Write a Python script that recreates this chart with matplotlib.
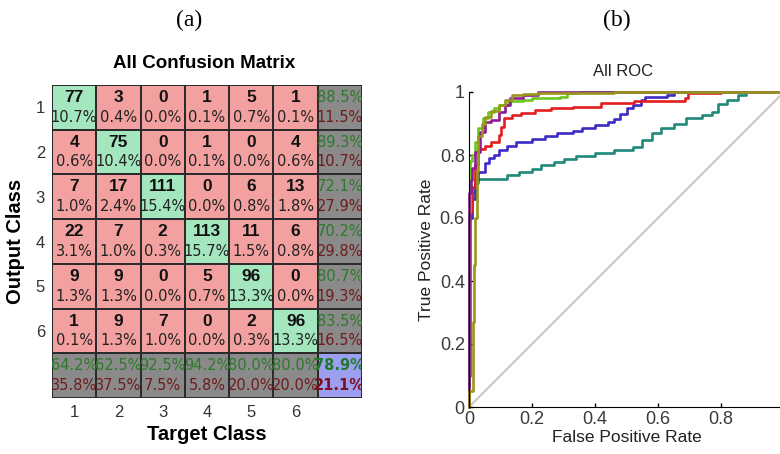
import numpy as np
import matplotlib
matplotlib.use("Agg")
import matplotlib.pyplot as plt
from matplotlib.colors import ListedColormap

# ---------------- data ----------------
classes = ["1", "2", "3", "4", "5", "6"]
counts = np.array([
    [77, 3, 0, 1, 5, 1],
    [4, 75, 0, 1, 0, 4],
    [7, 17, 111, 0, 6, 13],
    [22, 7, 2, 113, 11, 6],
    [9, 9, 0, 5, 96, 0],
    [1, 9, 7, 0, 2, 96],
])

roc_fpr_1 = [0, 0, 0.004, 0.008, 0.02, 0.03, 0.045, 0.06, 0.08, 0.094, 0.125, 0.17, 0.2, 0.29, 0.31, 0.35, 1.0]
roc_tpr_1 = [0, 0.62, 0.78, 0.80, 0.84, 0.885, 0.916, 0.937, 0.948, 0.958, 0.97, 0.975, 0.98, 0.985, 0.996, 1.0, 1.0]
roc_fpr_2 = [0, 0, 0.012, 0.016, 0.02, 0.025, 0.03, 0.04, 0.05, 0.07, 0.094, 0.115, 0.135, 0.17, 0.22, 0.46, 1.0]
roc_tpr_2 = [0, 0.05, 0.27, 0.45, 0.6, 0.75, 0.86, 0.9, 0.92, 0.94, 0.958, 0.975, 0.99, 0.995, 0.998, 1.0, 1.0]
roc_fpr_3 = [0, 0, 0.004, 0.01, 0.02, 0.03, 0.05, 0.07, 0.094, 0.1, 0.11, 0.135, 0.165, 0.21, 0.26, 0.33, 0.42, 0.525, 0.685, 0.695, 0.8, 1.0]
roc_tpr_3 = [0, 0.1, 0.62, 0.70, 0.767, 0.82, 0.83, 0.84, 0.863, 0.89, 0.916, 0.927, 0.932, 0.943, 0.948, 0.953, 0.964, 0.97, 0.98, 0.996, 1.0, 1.0]
roc_fpr_4 = [0, 0, 0.005, 0.01, 0.02, 0.035, 0.05, 0.07, 0.094, 0.115, 0.13, 0.17, 0.22, 1.0]
roc_tpr_4 = [0, 0.68, 0.72, 0.76, 0.81, 0.874, 0.905, 0.91, 0.937, 0.96, 0.98, 0.99, 1.0, 1.0]
roc_fpr_5 = [0, 0, 0.01, 0.02, 0.03, 0.05, 0.065, 0.08, 0.095, 0.12, 0.15, 0.2, 0.24, 0.28, 0.33, 0.36, 0.40, 0.44, 0.46, 0.48, 0.50, 0.52, 0.545, 0.56, 0.63, 0.65, 1.0]
roc_tpr_5 = [0, 0.6, 0.66, 0.72, 0.745, 0.775, 0.79, 0.80, 0.815, 0.83, 0.84, 0.85, 0.86, 0.87, 0.875, 0.885, 0.895, 0.905, 0.915, 0.93, 0.95, 0.96, 0.975, 0.985, 0.99, 1.0, 1.0]
roc_fpr_6 = [0, 0, 0.005, 0.01, 0.02, 0.03, 0.12, 0.16, 0.2, 0.23, 0.27, 0.3, 0.34, 0.4, 0.46, 0.52, 0.55, 0.58, 0.61, 0.65, 0.69, 0.74, 0.77, 0.79, 0.82, 0.855, 0.88, 1.0]
roc_tpr_6 = [0, 0.6, 0.65, 0.68, 0.71, 0.725, 0.735, 0.747, 0.757, 0.768, 0.778, 0.787, 0.797, 0.805, 0.816, 0.826, 0.848, 0.869, 0.885, 0.90, 0.918, 0.927, 0.937, 0.962, 0.975, 0.99, 1.0, 1.0]

roc_ticks = [0, 0.2, 0.4, 0.6, 0.8, 1]
roc_yticklabels = ["0", "0.2", "0.4", "0.6", "0.8", "1"]
roc_xticklabels = ["0", "0.2", "0.4", "0.6", "0.8", ""]


def pct(num, den):
    # percentage rounded half-up to one decimal
    tenths = (int(num) * 1000 * 2 + int(den)) // (2 * int(den))
    return f"{tenths // 10}.{tenths % 10}%"


# ---------------- figure ----------------
W, H = 780, 454
fig = plt.figure(figsize=(W / 100, H / 100), dpi=100)
SANS = ["Liberation Sans", "DejaVu Sans"]

# ---- (a) confusion matrix ----
n = len(classes)
total = counts.sum()
row_sum = counts.sum(axis=1)
col_sum = counts.sum(axis=0)
diag = np.diag(counts)

ax = fig.add_axes([52 / W, 1 - 398 / H, 310 / W, 313 / H])
code = np.ones((n + 1, n + 1))
code[np.arange(n), np.arange(n)] = 0
code[n, :] = 2
code[:, n] = 2
code[n, n] = 3
cmap = ListedColormap(["#A4E7BF", "#F3A1A0", "#8B8A8A", "#9C9FF0"])
ax.pcolormesh(np.arange(n + 2), np.arange(n + 2), code, cmap=cmap, vmin=-0.5, vmax=3.5,
              edgecolors="#2b2b2b", linewidth=1.3)
ax.set_xlim(0, n + 1)
ax.set_ylim(n + 1, 0)

count_font = dict(family=["Liberation Sans", "DejaVu Sans"],
                  fontweight="bold", fontsize=12.5, color="#111111")
PCT_FS = 10.5
pct_font = dict(family=["DejaVu Sans"], fontsize=PCT_FS, color="#222222")
for i in range(n):
    for j in range(n):
        ax.text(j + 0.5, i + 0.28, f"{counts[i, j]}", ha="center", va="center", clip_on=True, **count_font)
        ax.text(j + 0.5, i + 0.72, pct(counts[i, j], total), ha="center", va="center",
                clip_on=True, **pct_font)

GREEN_T = "#2A7A2A"
RED_T = "#6E1C1C"
for i in range(n):
    ax.text(n + 0.5, i + 0.28, pct(diag[i], row_sum[i]), ha="center", va="center", clip_on=True,
            family=["DejaVu Sans"], fontsize=PCT_FS, color=GREEN_T)
    ax.text(n + 0.5, i + 0.72, pct(row_sum[i] - diag[i], row_sum[i]), ha="center", va="center",
            clip_on=True, family=["DejaVu Sans"], fontsize=PCT_FS, color=RED_T)
for j in range(n):
    ax.text(j + 0.5, n + 0.28, pct(diag[j], col_sum[j]), ha="center", va="center", clip_on=True,
            family=["DejaVu Sans"], fontsize=PCT_FS, color=GREEN_T)
    ax.text(j + 0.5, n + 0.72, pct(col_sum[j] - diag[j], col_sum[j]), ha="center", va="center",
            clip_on=True, family=["DejaVu Sans"], fontsize=PCT_FS, color=RED_T)
ax.text(n + 0.5, n + 0.28, pct(diag.sum(), total), ha="center", va="center", clip_on=True,
        family=["DejaVu Sans"], fontsize=PCT_FS, fontweight="bold", color="#1E7A2A")
ax.text(n + 0.5, n + 0.72, pct(total - diag.sum(), total), ha="center", va="center", clip_on=True,
        family=["DejaVu Sans"], fontsize=PCT_FS, fontweight="bold", color="#7A1020")

ax.set_xticks(np.arange(n) + 0.5)
ax.set_xticklabels(classes, family=SANS, fontsize=12, color="#333333")
ax.set_yticks(np.arange(n) + 0.5)
ax.set_yticklabels(classes, family=SANS, fontsize=12, color="#333333")
ax.tick_params(length=0, pad=5)
for s in ax.spines.values():
    s.set_visible(False)
ax.set_xlabel("Target Class", family=SANS, fontsize=14.5, fontweight="bold", labelpad=4)
ax.set_ylabel("Output Class", family=SANS, fontsize=14.5, fontweight="bold", labelpad=8)
ax.text(0.49, 1 + 22 / 313, "All Confusion Matrix", transform=ax.transAxes, ha="center", va="center",
        family=SANS, fontsize=13.5, fontweight="bold")

fig.text(189 / W, 1 - 20 / H, "(a)", ha="center", va="center", family=["Liberation Serif"], fontsize=17)
fig.text(617 / W, 1 - 20 / H, "(b)", ha="center", va="center", family=["Liberation Serif"], fontsize=17)

# ---- (b) ROC ----
ax2 = fig.add_axes([469 / W, 1 - 407 / H, 315 / W, 315 / H])
ax2.plot([0, 1], [0, 1], color="#C8C8C8", lw=1.5)
series = [
    (roc_fpr_6, roc_tpr_6, "#1F8A78"),
    (roc_fpr_5, roc_tpr_5, "#3B2BC8"),
    (roc_fpr_3, roc_tpr_3, "#E41E1E"),
    (roc_fpr_1, roc_tpr_1, "#6BC81C"),
    (roc_fpr_4, roc_tpr_4, "#8E1A98"),
    (roc_fpr_2, roc_tpr_2, "#9A961C"),
]
for fx, ty, c in series:
    ax2.plot(fx, ty, drawstyle="steps-post", color=c, lw=1.9, clip_on=False)
ax2.set_xlim(0, 1)
ax2.set_ylim(0, 1)
ax2.set_xticks(roc_ticks)
ax2.set_xticklabels(roc_xticklabels, family=SANS, fontsize=13, color="#3a3a3a")
ax2.set_yticks(roc_ticks)
ax2.set_yticklabels(roc_yticklabels, family=SANS, fontsize=13, color="#3a3a3a")
ax2.tick_params(direction="in", length=3, width=1, pad=3, color="black")
ax2.spines["top"].set_visible(False)
ax2.spines["right"].set_visible(False)
ax2.set_xlabel("False Positive Rate", family=SANS, fontsize=12.5, color="#222222", labelpad=1)
ax2.set_ylabel("True Positive Rate", family=SANS, fontsize=12.5, color="#222222", labelpad=4)
ax2.text(0.49, 1 + 20 / 315, "All ROC", transform=ax2.transAxes, ha="center", va="center",
         family=SANS, fontsize=12, color="#222222")

fig.savefig("out.png", dpi=100)
